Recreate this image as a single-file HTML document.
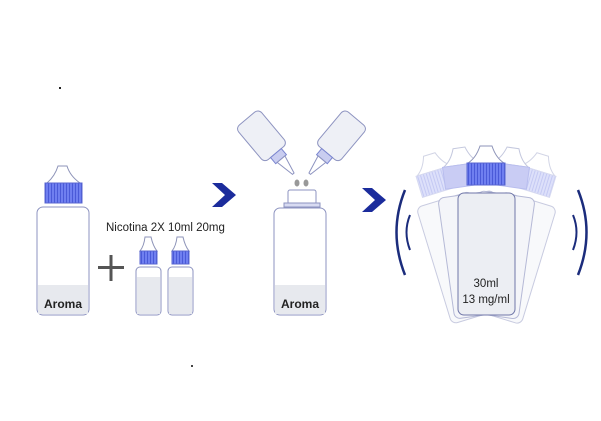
<!DOCTYPE html>
<html><head><style>html,body{margin:0;padding:0;background:#fff;}svg{display:block}</style></head>
<body>
<svg width="601" height="421" viewBox="0 0 601 421" xmlns="http://www.w3.org/2000/svg" font-family="Liberation Sans, sans-serif">
<defs>
<pattern id="rib" width="3" height="10" patternUnits="userSpaceOnUse"><rect width="3" height="10" fill="#6f7ff0"/><rect width="1" height="10" fill="#4a5ad8"/></pattern>
<pattern id="ribp" width="3" height="10" patternUnits="userSpaceOnUse"><rect width="3" height="10" fill="#dde0fa"/><rect width="1" height="10" fill="#c4c9f3"/></pattern>
</defs>
<rect x="59" y="87" width="2" height="2" fill="#222"/>
<rect x="191" y="365" width="2" height="2" fill="#444"/>

<!-- bottle 1 -->
<path d="M58 166 L67 166 Q70 176 80 183 L47 183 Q55 176 58 166 Z" fill="#fff" stroke="#8d93b8"/>
<rect x="45" y="183" width="37" height="20" fill="url(#rib)" stroke="#5866d0"/>
<rect x="37" y="207" width="52" height="108" rx="6" fill="#fff" stroke="#8d93c0"/>
<rect x="38" y="285" width="50" height="29" fill="#e7e9ee"/>
<text x="63" y="308" font-size="12" font-weight="bold" text-anchor="middle" fill="#222">Aroma</text>

<!-- plus -->
<rect x="98" y="266" width="26" height="3" fill="#555"/>
<rect x="109.5" y="255" width="3" height="26" fill="#555"/>

<text x="106" y="231" font-size="11.5" fill="#222">Nicotina 2X 10ml 20mg</text>

<!-- small bottles -->
<g>
<path d="M145 237 L151 237 Q153 246 157 251 L140 251 Q144 246 145 237 Z" fill="#fff" stroke="#8d93b8"/>
<rect x="140" y="251" width="17" height="13" fill="url(#rib)" stroke="#5866d0"/>
<rect x="136" y="267" width="25" height="48" rx="4" fill="#fff" stroke="#8d93c0"/>
<rect x="137" y="277" width="23" height="37" fill="#e7e9ee"/>
</g>
<g transform="translate(32,0)">
<path d="M145 237 L151 237 Q153 246 157 251 L140 251 Q144 246 145 237 Z" fill="#fff" stroke="#8d93b8"/>
<rect x="140" y="251" width="17" height="13" fill="url(#rib)" stroke="#5866d0"/>
<rect x="136" y="267" width="25" height="48" rx="4" fill="#fff" stroke="#8d93c0"/>
<rect x="137" y="277" width="23" height="37" fill="#e7e9ee"/>
</g>

<!-- chevrons -->
<path d="M212 183 L222 183 L236 195 L222 207 L212 207 L225 195 Z" fill="#1b2c9c"/>
<path d="M362 188 L372 188 L386 200 L372 212 L362 212 L375 200 Z" fill="#1b2c9c"/>

<!-- pouring bottles -->
<g transform="rotate(-40 265 140)">
<rect x="250" y="112" width="30" height="45" rx="5" fill="#eef0f6" stroke="#8d93c0"/>
<rect x="258" y="157" width="14" height="8" fill="#c9cdf0" stroke="#7a85d0"/>
<path d="M260 165 L270 165 L266 184 L264 184 Z" fill="#fff" stroke="#8d93c0"/>
</g>
<g transform="rotate(40 338 140)">
<rect x="323" y="112" width="30" height="45" rx="5" fill="#eef0f6" stroke="#8d93c0"/>
<rect x="331" y="157" width="14" height="8" fill="#c9cdf0" stroke="#7a85d0"/>
<path d="M333 165 L343 165 L339 184 L337 184 Z" fill="#fff" stroke="#8d93c0"/>
</g>
<ellipse cx="297" cy="183" rx="2.5" ry="3.5" fill="#999"/>
<ellipse cx="306" cy="183" rx="2.5" ry="3.5" fill="#999"/>

<!-- middle bottle -->
<rect x="288" y="190" width="28" height="14" rx="2" fill="#fff" stroke="#8d93c0"/>
<rect x="284" y="203" width="36" height="4" fill="#d8dbf2" stroke="#8d93c0"/>
<rect x="274" y="208" width="52" height="107" rx="6" fill="#fff" stroke="#8d93c0"/>
<rect x="275" y="285" width="50" height="29" fill="#e7e9ee"/>
<text x="300" y="308" font-size="12" font-weight="bold" text-anchor="middle" fill="#222">Aroma</text>

<!-- shaking group -->
<g>
<g transform="rotate(-17 486 340)">
<path d="M480 146 L492 146 Q496 158 504 163 L468 163 Q476 158 480 146 Z" fill="#fff" stroke="#d2d5e6"/>
<rect x="467" y="163" width="38" height="22" fill="url(#ribp)" stroke="#d6d9f0"/>
<rect x="458" y="193" width="57" height="122" rx="6" fill="#f8f9fb" stroke="#c8cbe0"/>
</g>
<g transform="rotate(17 486 340)">
<path d="M480 146 L492 146 Q496 158 504 163 L468 163 Q476 158 480 146 Z" fill="#fff" stroke="#d2d5e6"/>
<rect x="467" y="163" width="38" height="22" fill="url(#ribp)" stroke="#d6d9f0"/>
<rect x="458" y="193" width="57" height="122" rx="6" fill="#f8f9fb" stroke="#c8cbe0"/>
</g>
<g transform="rotate(-8 486 340)">
<path d="M480 146 L492 146 Q496 158 504 163 L468 163 Q476 158 480 146 Z" fill="#fff" stroke="#c4c8de"/>
<rect x="467" y="163" width="38" height="22" fill="#c9ccf4" stroke="#b8bdee"/>
<rect x="458" y="193" width="57" height="122" rx="6" fill="#f4f5f9" stroke="#b5b9d6"/>
</g>
<g transform="rotate(8 486 340)">
<path d="M480 146 L492 146 Q496 158 504 163 L468 163 Q476 158 480 146 Z" fill="#fff" stroke="#c4c8de"/>
<rect x="467" y="163" width="38" height="22" fill="#c9ccf4" stroke="#b8bdee"/>
<rect x="458" y="193" width="57" height="122" rx="6" fill="#f4f5f9" stroke="#b5b9d6"/>
</g>
</g>
<path d="M480 146 L492 146 Q496 158 504 163 L468 163 Q476 158 480 146 Z" fill="#fff" stroke="#8d93b8"/>
<rect x="467" y="163" width="38" height="22" fill="url(#rib)" stroke="#5866d0"/>
<rect x="458" y="193" width="57" height="122" rx="6" fill="#eceef3" stroke="#6f76a8"/>
<text x="486" y="287" font-size="11.5" text-anchor="middle" fill="#222">30ml</text>
<text x="486" y="303" font-size="11.5" text-anchor="middle" fill="#222">13 mg/ml</text>

<!-- shake arcs -->
<path d="M405 190 Q388 232 405 275" fill="none" stroke="#1b2c7c" stroke-width="2.5"/>
<path d="M410 215 Q403 232 410 250" fill="none" stroke="#1b2c7c" stroke-width="2"/>
<path d="M578 190 Q595 232 578 275" fill="none" stroke="#1b2c7c" stroke-width="2.5"/>
<path d="M573 215 Q580 232 573 250" fill="none" stroke="#1b2c7c" stroke-width="2"/>
</svg>
</body></html>
